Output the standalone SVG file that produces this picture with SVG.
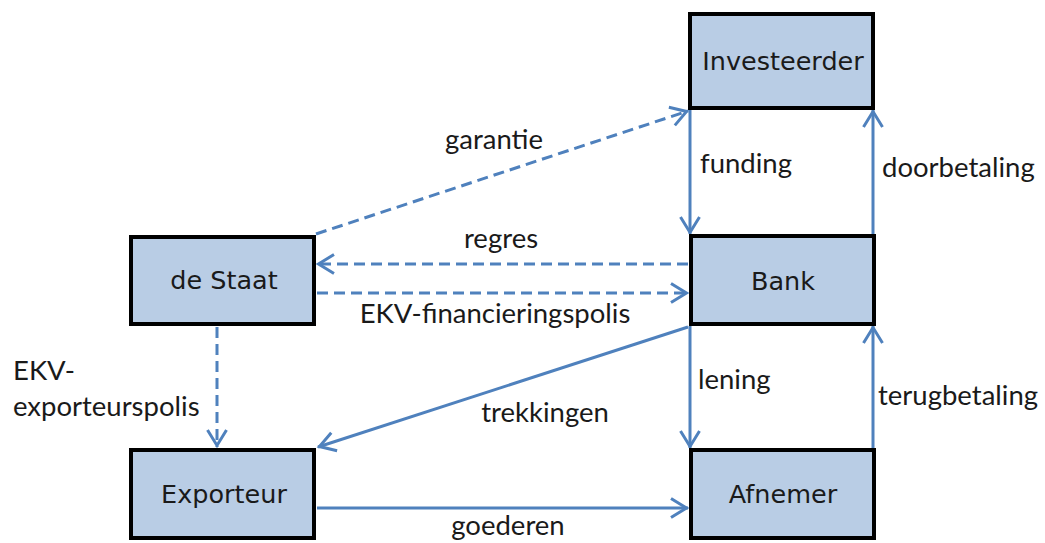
<svg xmlns="http://www.w3.org/2000/svg" width="1045" height="543" viewBox="0 0 1045 543">
  <style>
    .box { fill: #B9CDE5; stroke: #000; stroke-width: 4; }
    .ntext { font-family: "DejaVu Sans", Verdana, sans-serif; font-size: 25.5px; fill: #1a1a1a; text-anchor: middle; }
    .lbl { font-family: Lato, "Liberation Sans", sans-serif; font-size: 27.5px; fill: #1a1a1a; }
    .mid { text-anchor: middle; }
    .conn { stroke: #4F81BD; stroke-width: 3; fill: none; marker-end: url(#arr); }
    .dash { stroke-dasharray: 11 6; }
  </style>
  <defs>
    <marker id="arr" viewBox="-22 -12 24 24" refX="0" refY="0" markerWidth="24" markerHeight="24" markerUnits="userSpaceOnUse" orient="auto">
      <path d="M-17,-9.5 L-1.5,0 L-17,9.5" fill="none" stroke="#4F81BD" stroke-width="3"/>
    </marker>
  </defs>
  <rect width="1045" height="543" fill="#ffffff"/>

  <g id="connectors">
    <line class="conn dash" x1="316" y1="234" x2="688" y2="111"/>
    <line class="conn" x1="690" y1="110" x2="690" y2="234"/>
    <line class="conn" x1="873" y1="234" x2="873" y2="110"/>
    <line class="conn dash" x1="688" y1="264" x2="317" y2="264"/>
    <line class="conn dash" x1="317" y1="293" x2="688" y2="293"/>
    <line class="conn" x1="688" y1="327" x2="318" y2="447"/>
    <line class="conn" x1="690" y1="326" x2="690" y2="448"/>
    <line class="conn" x1="873" y1="448" x2="873" y2="326"/>
    <line class="conn dash" x1="217" y1="327" x2="217" y2="447"/>
    <line class="conn" x1="317" y1="508" x2="688" y2="508"/>
  </g>

  <g id="labels">
    <text class="lbl mid" x="494" y="149">garantie</text>
    <text class="lbl mid" x="501" y="248">regres</text>
    <text class="lbl mid" x="495" y="323">EKV-financieringspolis</text>
    <text class="lbl" x="700" y="173">funding</text>
    <text class="lbl" x="882" y="177">doorbetaling</text>
    <text class="lbl" x="698" y="389">lening</text>
    <text class="lbl" x="878" y="405">terugbetaling</text>
    <text class="lbl mid" x="545" y="422">trekkingen</text>
    <text class="lbl mid" x="508" y="535">goederen</text>
    <text class="lbl" x="13" y="380">EKV-</text>
    <text class="lbl" x="13" y="416">exporteurspolis</text>
  </g>

  <g id="investeerder">
    <rect class="box" x="690" y="14" width="183" height="94"/>
    <text class="ntext" x="783" y="70">Investeerder</text>
  </g>
  <g id="bank">
    <rect class="box" x="691" y="236" width="183" height="88"/>
    <text class="ntext" x="783" y="290">Bank</text>
  </g>
  <g id="destaat">
    <rect class="box" x="131" y="237" width="183" height="87"/>
    <text class="ntext" x="224" y="289">de Staat</text>
  </g>
  <g id="exporteur">
    <rect class="box" x="131" y="450" width="183" height="88"/>
    <text class="ntext" x="224" y="503">Exporteur</text>
  </g>
  <g id="afnemer">
    <rect class="box" x="691" y="450" width="183" height="88"/>
    <text class="ntext" x="783" y="503">Afnemer</text>
  </g>
</svg>
